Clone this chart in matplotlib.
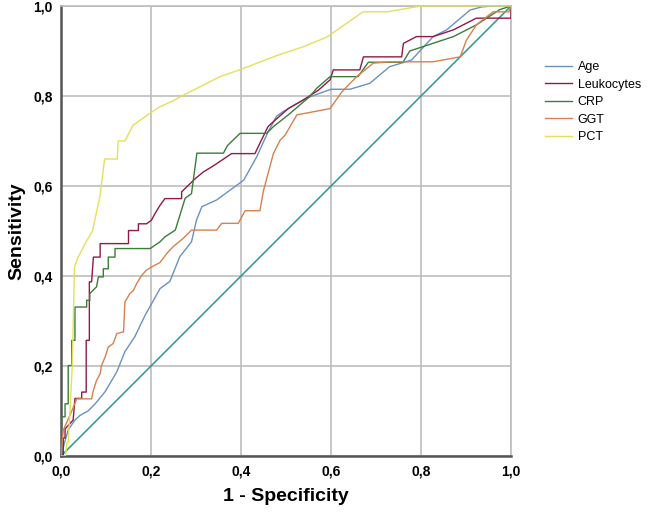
import matplotlib
matplotlib.use("Agg")
import matplotlib.pyplot as plt
from matplotlib.ticker import FuncFormatter

# ---- data ----
age_x = [0, 0.008, 0.016, 0.031, 0.042, 0.06, 0.076, 0.098, 0.124, 0.142, 0.164, 0.187, 0.205, 0.22, 0.242,
         0.264, 0.29, 0.301, 0.313, 0.346, 0.376, 0.406, 0.435, 0.46, 0.479, 0.493, 0.538, 0.553, 0.6, 0.642,
         0.686, 0.73, 0.779, 0.827, 0.857, 0.909, 0.935, 0.961, 1.0]
age_y = [0, 0.03, 0.058, 0.08, 0.09, 0.10, 0.116, 0.143, 0.187, 0.232, 0.265, 0.313, 0.345, 0.372, 0.388,
         0.443, 0.476, 0.524, 0.554, 0.569, 0.591, 0.613, 0.665, 0.72, 0.755, 0.765, 0.791, 0.798, 0.815, 0.815,
         0.828, 0.865, 0.88, 0.932, 0.947, 0.991, 0.998, 1.0, 1.0]

leu_x = [0, 0.005, 0.005, 0.009, 0.009, 0.027, 0.031, 0.046, 0.046, 0.056, 0.056, 0.063, 0.063, 0.068, 0.072,
         0.087, 0.087, 0.15, 0.15, 0.172, 0.172, 0.19, 0.201, 0.209, 0.22, 0.231, 0.268, 0.268, 0.298, 0.316,
         0.339, 0.379, 0.431, 0.442, 0.46, 0.472, 0.505, 0.538, 0.572, 0.598, 0.605, 0.664, 0.672, 0.757, 0.761,
         0.79, 0.827, 0.872, 0.923, 0.96, 0.985, 1.0, 1.0]
leu_y = [0, 0, 0.04, 0.04, 0.06, 0.08, 0.128, 0.128, 0.142, 0.142, 0.257, 0.257, 0.387, 0.387, 0.442,
         0.442, 0.472, 0.472, 0.501, 0.501, 0.516, 0.516, 0.524, 0.539, 0.557, 0.572, 0.572, 0.587, 0.616, 0.631,
         0.645, 0.672, 0.672, 0.695, 0.732, 0.743, 0.772, 0.791, 0.813, 0.836, 0.858, 0.858, 0.887, 0.887, 0.917,
         0.932, 0.932, 0.947, 0.973, 0.973, 0.973, 0.973, 1.0]

crp_x = [0, 0.0015, 0.009, 0.009, 0.016, 0.016, 0.024, 0.024, 0.031, 0.031, 0.057, 0.057, 0.064, 0.064, 0.079,
         0.083, 0.094, 0.094, 0.105, 0.105, 0.12, 0.12, 0.198, 0.22, 0.231, 0.254, 0.276, 0.29, 0.294, 0.302,
         0.361, 0.37, 0.398, 0.457, 0.472, 0.505, 0.553, 0.568, 0.598, 0.66, 0.683, 0.76, 0.775, 0.872, 0.923,
         0.975, 1.0]
crp_y = [0, 0.087, 0.087, 0.116, 0.116, 0.201, 0.201, 0.257, 0.257, 0.331, 0.331, 0.346, 0.346, 0.361, 0.376,
         0.398, 0.398, 0.416, 0.416, 0.442, 0.442, 0.461, 0.461, 0.476, 0.487, 0.502, 0.573, 0.583, 0.613, 0.673,
         0.673, 0.69, 0.717, 0.717, 0.732, 0.758, 0.799, 0.817, 0.843, 0.843, 0.875, 0.875, 0.9, 0.932, 0.958,
         0.992, 1.0]

ggt_x = [0, 0.005, 0.015, 0.024, 0.035, 0.068, 0.072, 0.079, 0.087, 0.09, 0.098, 0.105, 0.116, 0.124, 0.139,
         0.142, 0.153, 0.161, 0.168, 0.179, 0.19, 0.201, 0.22, 0.235, 0.249, 0.272, 0.29, 0.346, 0.357, 0.394,
         0.409, 0.442, 0.45, 0.472, 0.487, 0.498, 0.524, 0.598, 0.624, 0.657, 0.694, 0.731, 0.827, 0.887, 0.901,
         0.923, 0.96, 0.995, 1.0]
ggt_y = [0, 0.057, 0.08, 0.1, 0.127, 0.127, 0.146, 0.168, 0.183, 0.201, 0.22, 0.242, 0.25, 0.272, 0.276,
         0.342, 0.361, 0.368, 0.383, 0.401, 0.413, 0.42, 0.43, 0.45, 0.465, 0.484, 0.502, 0.502, 0.517, 0.517,
         0.545, 0.545, 0.59, 0.672, 0.702, 0.713, 0.758, 0.772, 0.809, 0.843, 0.873, 0.876, 0.876, 0.887, 0.924,
         0.958, 0.987, 0.987, 1.0]

pct_x = [0, 0.01, 0.013, 0.016, 0.02, 0.025, 0.03, 0.03, 0.037, 0.037, 0.058, 0.058, 0.07, 0.07, 0.087, 0.087,
         0.092, 0.097, 0.125, 0.127, 0.142, 0.16, 0.198, 0.22, 0.25, 0.28, 0.353, 0.402, 0.48, 0.54, 0.591, 0.671,
         0.724, 0.8, 0.9, 1.0]
pct_y = [0, 0, 0.03, 0.03, 0.10, 0.20, 0.42, 0.42, 0.44, 0.44, 0.48, 0.48, 0.50, 0.50, 0.58, 0.58,
         0.62, 0.66, 0.66, 0.70, 0.70, 0.735, 0.762, 0.776, 0.79, 0.806, 0.843, 0.86, 0.89, 0.91, 0.931, 0.987,
         0.987, 1.0, 1.0, 1.0]

ref_x = [0, 1]
ref_y = [0, 1]

series_names = ["Age", "Leukocytes", "CRP", "GGT", "PCT"]
series_colors = ["#6A92C0", "#8E1A48", "#3A7D3A", "#D9804D", "#E4E05A"]
ticks = [0.0, 0.2, 0.4, 0.6, 0.8, 1.0]

# ---- figure ----
fig = plt.figure(figsize=(6.48, 5.16), dpi=100)
ax = fig.add_axes([61 / 648, 1 - 456 / 516, 450 / 648, 450 / 516])

xs = [age_x, leu_x, crp_x, ggt_x, pct_x]
ys = [age_y, leu_y, crp_y, ggt_y, pct_y]
for x, y, name, c in zip(xs, ys, series_names, series_colors):
    ax.plot(x, y, color=c, lw=1.0, label=name, zorder=3)
ax.plot(ref_x, ref_y, color="#2A9A8A", lw=1.1, zorder=2)

ax.set_xlim(0, 1)
ax.set_ylim(0, 1)
ax.set_xticks(ticks)
ax.set_yticks(ticks)
fmt = FuncFormatter(lambda v, p: f"{v:.1f}".replace(".", ","))
ax.xaxis.set_major_formatter(fmt)
ax.yaxis.set_major_formatter(fmt)
ax.grid(True, color="#BDBDBD", lw=1.2)
ax.set_axisbelow(True)
ax.tick_params(length=0, pad=6, labelsize=10)
for lab in ax.get_xticklabels() + ax.get_yticklabels():
    lab.set_fontfamily("Liberation Sans")
    lab.set_fontweight("bold")
for s in ["top", "right"]:
    ax.spines[s].set_color("#BDBDBD")
    ax.spines[s].set_linewidth(1.2)
for s in ["left", "bottom"]:
    ax.spines[s].set_color("#555555")
    ax.spines[s].set_linewidth(1.8)

ax.set_xlabel("1 - Specificity", fontsize=14, fontweight="bold", family="Liberation Sans", labelpad=7)
ax.set_ylabel("Sensitivity", fontsize=14, fontweight="bold", family="Liberation Sans", labelpad=6)

leg = ax.legend(loc="upper left", bbox_to_anchor=(1.075, 0.878), frameon=False,
                prop={"family": "Liberation Sans", "size": 9}, handlelength=2.2,
                handletextpad=0.45, labelspacing=0.45, borderaxespad=0, borderpad=0)

fig.savefig("out.png", dpi=100)
